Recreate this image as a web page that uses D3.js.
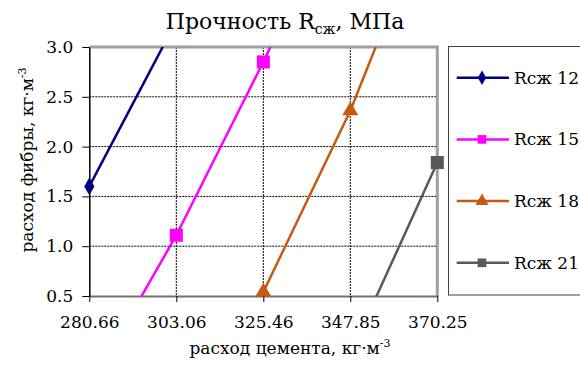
<!DOCTYPE html>
<html>
<head>
<meta charset="utf-8">
<script src="https://cdn.jsdelivr.net/npm/d3@7"></script>
<style>
  body { margin: 0; background: #fff; }
  svg { display: block; font-family: "DejaVu Serif", serif; }
</style>
</head>
<body>
<div id="chart"></div>
<script>
// Data
var cement = [280.66, 303.06, 325.46, 347.85, 370.25];
var xTicks = ["280.66", "303.06", "325.46", "347.85", "370.25"];
var yTicks = [0.5, 1.0, 1.5, 2.0, 2.5, 3.0];
var seriesNames = ["Rсж 12", "Rсж 15", "Rсж 18", "Rсж 21"];
var r12 = [1.6, 3.26, null, null, null];
var r15 = [-0.42, 1.11, 2.85, 4.7, null];
var r18 = [null, -1.3, 0.54, 2.36, 4.55];
var r21 = [null, null, null, -0.08, 1.84];

var colors = ["#000080", "#ff00ff", "#c55a11", "#595959"];
var shapes = ["diamond", "square", "triangle", "square"];

var series = [r12, r15, r18, r21].map(function(vals, i) {
    return {
        name: seriesNames[i],
        color: colors[i],
        shape: shapes[i],
        points: vals.map((v, j) => ({ x: cement[j], y: v }))
    };
});

var W = 580, H = 367;
var plot = { left: 89.3, right: 437.3, top: 47, bottom: 296 };

var svg = d3.select("#chart").append("svg")
    .attr("width", W)
    .attr("height", H);

svg.append("rect").attr("width", W).attr("height", H).attr("fill", "#fff");

var x = d3.scaleLinear()
    .domain([cement[0], cement[cement.length - 1]])
    .range([plot.left, plot.right]);

var y = d3.scaleLinear()
    .domain([0.5, 3.0])
    .range([plot.bottom, plot.top]);

// Title
var title = svg.append("text")
    .attr("x", 285)
    .attr("y", 29)
    .attr("text-anchor", "middle")
    .attr("font-size", "22px")
    .attr("fill", "#000");
title.append("tspan").text("Прочность R");
title.append("tspan").attr("font-size", "14px").attr("dy", 5).text("сж");
title.append("tspan").attr("dy", -5).text(", МПа");

// Grid lines
svg.append("g")
    .selectAll("line")
    .data(cement.slice(1, -1))
    .join("line")
    .attr("x1", d => x(d)).attr("x2", d => x(d))
    .attr("y1", plot.top).attr("y2", plot.bottom)
    .attr("stroke", "#000")
    .attr("stroke-width", 1)
    .attr("stroke-dasharray", "2,1");

svg.append("g")
    .selectAll("line")
    .data(yTicks.slice(1, -1))
    .join("line")
    .attr("x1", plot.left).attr("x2", plot.right)
    .attr("y1", d => y(d)).attr("y2", d => y(d))
    .attr("stroke", "#000")
    .attr("stroke-width", 1)
    .attr("stroke-dasharray", "2,1");

// Plot border (top + right)
svg.append("path")
    .attr("d", `M${plot.left},${plot.top}H${plot.right}V${plot.bottom}`)
    .attr("fill", "none")
    .attr("stroke", "#a0a0a0")
    .attr("stroke-width", 3);

// Axes
var xAxis = svg.append("g")
    .attr("transform", `translate(0,${plot.bottom})`)
    .call(d3.axisBottom(x).tickValues(cement).tickFormat((d, i) => xTicks[i]).tickSize(6).tickSizeOuter(0));
xAxis.select(".domain").attr("stroke", "#707070").attr("stroke-width", 2);
xAxis.selectAll(".tick line").attr("stroke", "#000");
xAxis.selectAll(".tick text")
    .attr("font-family", "DejaVu Serif")
    .attr("font-size", "17px")
    .attr("fill", "#000")
    .attr("dy", "23px");

var yAxis = svg.append("g")
    .attr("transform", `translate(${plot.left},0)`)
    .call(d3.axisLeft(y).tickValues(yTicks).tickFormat(d3.format(".1f")).tickSize(7).tickSizeOuter(0));
yAxis.select(".domain").attr("stroke", "#000").attr("stroke-width", 1.5);
yAxis.selectAll(".tick line").attr("stroke", "#000");
yAxis.selectAll(".tick text")
    .attr("font-family", "DejaVu Serif")
    .attr("font-size", "17px")
    .attr("fill", "#000")
    .attr("x", -16);

// Axis titles
var xt = svg.append("text")
    .attr("x", 290)
    .attr("y", 354)
    .attr("text-anchor", "middle")
    .attr("font-size", "17px");
xt.append("tspan").text("расход цемента, кг·м");
xt.append("tspan").attr("font-size", "11px").attr("dy", -7).text("-3");

var yt = svg.append("text")
    .attr("transform", "translate(33,160) rotate(-90)")
    .attr("text-anchor", "middle")
    .attr("font-size", "17px");
yt.append("tspan").text("расход фибры, кг·м");
yt.append("tspan").attr("font-size", "11px").attr("dy", -7).text("-3");

// Clip
svg.append("clipPath").attr("id", "clip")
    .append("rect")
    .attr("x", plot.left).attr("y", plot.top)
    .attr("width", plot.right - plot.left)
    .attr("height", plot.bottom - plot.top);

var line = d3.line()
    .defined(d => d.y !== null)
    .x(d => x(d.x))
    .y(d => y(d.y));

function symbolFor(shape, size) {
    var t = shape === "diamond" ? d3.symbolDiamond : shape === "triangle" ? d3.symbolTriangle : d3.symbolSquare;
    return d3.symbol().type(t).size(size)();
}
var markerSize = { diamond: 90, square: 170, triangle: 110 };

var lines = svg.append("g").attr("clip-path", "url(#clip)");
lines.selectAll("path")
    .data(series)
    .join("path")
    .attr("d", d => line(d.points))
    .attr("fill", "none")
    .attr("stroke", d => d.color)
    .attr("stroke-width", 2.5);

var marks = svg.append("g");
series.forEach(function(s) {
    marks.selectAll(null)
        .data(s.points.filter(p => p.y !== null && p.y >= 0.5 && p.y <= 3.0))
        .join("path")
        .attr("transform", p => `translate(${x(p.x)},${y(p.y)})`)
        .attr("d", symbolFor(s.shape, markerSize[s.shape]))
        .attr("fill", s.color);
});

// Legend
var legend = svg.append("g");
legend.append("rect")
    .attr("x", 448.5).attr("y", 46.5)
    .attr("width", 140).attr("height", 248.5)
    .attr("fill", "#fff")
    .attr("stroke", "#404040")
    .attr("stroke-width", 1);

var items = legend.selectAll("g.item")
    .data(series)
    .join("g")
    .attr("class", "item")
    .attr("transform", (d, i) => `translate(0,${77.7 + i * 61.7})`);
items.append("line")
    .attr("x1", 456.7).attr("x2", 509)
    .attr("stroke", d => d.color)
    .attr("stroke-width", 2.5);
items.append("path")
    .attr("transform", "translate(482,0)")
    .attr("d", d => symbolFor(d.shape, d.shape === "diamond" ? 60 : 75))
    .attr("fill", d => d.color);
items.append("text")
    .attr("x", 514)
    .attr("dy", "0.35em")
    .attr("font-size", "17px")
    .text(d => d.name);
</script>
</body>
</html>
